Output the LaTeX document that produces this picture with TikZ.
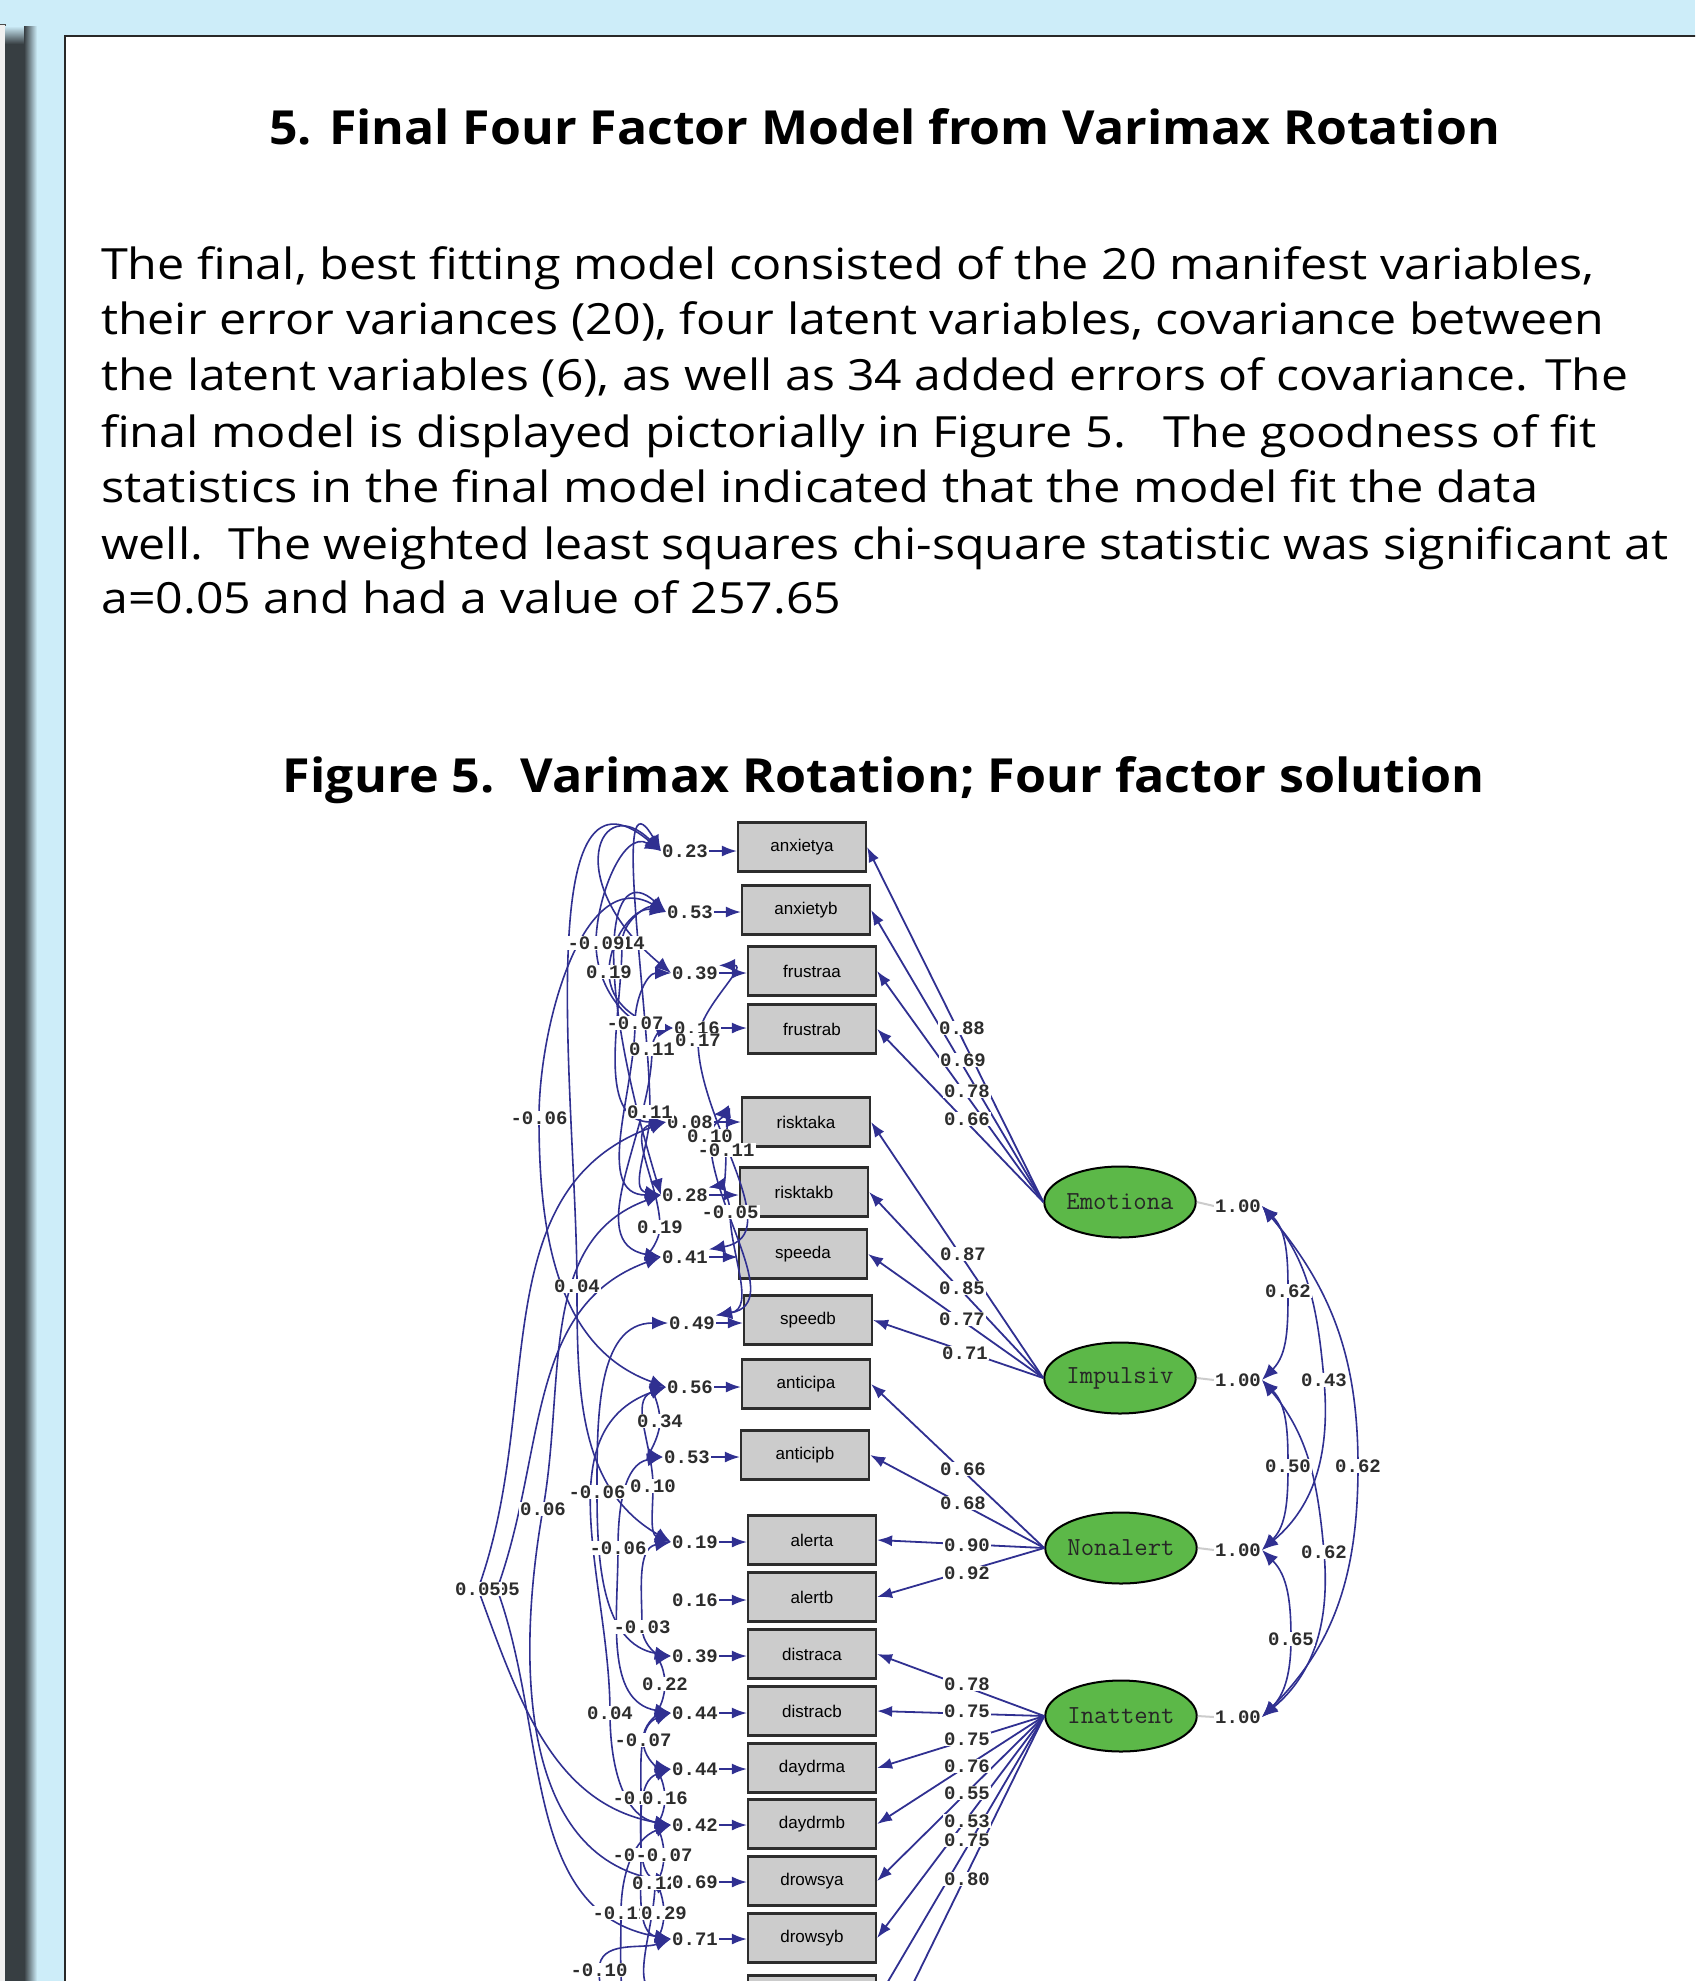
\documentclass[tikz,border=0pt]{standalone}
\usepackage{fontspec}
\setmainfont{Open Sans}
\newfontfamily\monof{Liberation Mono}
\newfontfamily\boxf{Liberation Sans}
\usetikzlibrary{arrows.meta,shapes.geometric}
\pgfdeclarelayer{fg}
\pgfsetlayers{main,fg}
\definecolor{bgblue}{RGB}{205,237,249}
\definecolor{darkbar}{RGB}{55,62,66}
\definecolor{panelline}{RGB}{40,40,40}
\definecolor{pathblue}{RGB}{48,48,145}
\definecolor{boxfill}{RGB}{204,204,204}
\definecolor{boxline}{RGB}{45,45,45}
\definecolor{latgreen}{RGB}{92,184,72}
\definecolor{labtext}{RGB}{45,45,45}
\newcommand\bodyline[2]{\resizebox{#1}{40pt}{\rule{0pt}{40pt}#2}}
\newcommand\headline[2]{\resizebox{#1}{50pt}{\rule{0pt}{50pt}#2}}
\tikzset{
  box/.style={draw=boxline, fill=boxfill, line width=2.2pt, minimum width=128pt, minimum height=49pt, inner sep=0pt, font=\boxf\fontsize{17}{17}\selectfont},
  lat/.style={ellipse, draw=black, fill=latgreen, line width=2pt, minimum width=127pt, minimum height=71pt, inner sep=0pt, font=\ttfamily\fontsize{26}{26}\selectfont, text=black!85},
  lab/.style={fill=white, inner sep=1pt, font=\monof\bfseries\fontsize{19}{19}\selectfont, text=labtext},
  arr/.style={draw=pathblue, line width=1.8pt, -{Latex[length=15pt,width=11pt]}},
  cov/.style={draw=pathblue, line width=1.6pt, {Latex[length=16pt,width=13pt]}-{Latex[length=16pt,width=13pt]}},
  bodytext/.style={anchor=base west, inner sep=0pt, font=\fontsize{43}{52}\selectfont},
  headtext/.style={anchor=base, inner sep=0pt, font=\bfseries\fontsize{47}{56}\selectfont}
}
\begin{document}
\begin{tikzpicture}[x=1pt,y=1pt]
\useasboundingbox (0,0) rectangle (1695,-1981);
\begin{scope}
\clip (0,0) rectangle (1695,-1981);
% background and frame
\fill[bgblue] (0,0) rectangle (1695,-1981);
\fill[gray!12] (0,-24) rectangle (5,-1981);
\draw[gray!60!black, line width=1pt] (0,-24) -- (5,-24) -- (5,-1981);
\shade[top color=bgblue, bottom color=darkbar] (5,-26) rectangle (24,-44);
\fill[darkbar] (5,-44) rectangle (24,-1981);
\shade[left color=darkbar, right color=bgblue] (24,-26) rectangle (37,-1981);
\filldraw[fill=white, draw=panelline, line width=2pt] (65,-36) rectangle (1720,-2010);

% texts
\node[headtext] (title) at (884.5,-144) {\headline{1231pt}{5. Final Four Factor Model from Varimax Rotation}};
\node[bodytext] (p1) at (101,-279) {\bodyline{1493pt}{The final, best fitting model consisted of the 20 manifest variables,}};
\node[bodytext] (p2) at (101,-334) {\bodyline{1503pt}{their error variances (20), four latent variables, covariance between}};
\node[bodytext] (p3) at (101,-390) {\bodyline{1527pt}{the latent variables (6), as well as 34 added errors of covariance. The}};
\node[bodytext] (p4) at (101,-447) {\bodyline{1495pt}{final model is displayed pictorially in Figure 5.\ \ \ The goodness of fit}};
\node[bodytext] (p5) at (101,-502) {\bodyline{1437pt}{statistics in the final model indicated that the model fit the data}};
\node[bodytext] (p6) at (101,-559) {\bodyline{1567pt}{well.\ \ The weighted least squares chi-square statistic was significant at}};
\node[bodytext] (p7) at (101,-613) {\bodyline{740pt}{a=0.05 and had a value of 257.65}};
\node[headtext] (cap) at (884,-792) {\headline{1202pt}{Figure 5.\ \ Varimax Rotation; Four factor solution}};

% observed boxes
\node[box] (b1) at (802,-847) {anxietya};
\node[box] (b2) at (806,-910) {anxietyb};
\node[box] (b3) at (812,-971) {frustraa};
\node[box] (b4) at (812,-1029) {frustrab};
\node[box] (b5) at (806,-1122) {risktaka};
\node[box] (b6) at (804,-1192) {risktakb};
\node[box] (b7) at (803,-1254) {speeda};
\node[box] (b8) at (808,-1320) {speedb};
\node[box] (b9) at (806,-1384) {anticipa};
\node[box] (b10) at (805,-1455) {anticipb};
\node[box] (b11) at (812,-1540) {alerta};
\node[box] (b12) at (812,-1597) {alertb};
\node[box] (b13) at (812,-1654) {distraca};
\node[box] (b14) at (812,-1711) {distracb};
\node[box] (b15) at (812,-1768) {daydrma};
\node[box] (b16) at (812,-1824) {daydrmb};
\node[box] (b17) at (812,-1881) {drowsya};
\node[box] (b18) at (812,-1938) {drowsyb};
\node[box] (b19) at (812,-2000) {};
\node[box] (b20) at (812,-2057) {};

% latent
\node[lat] (L1) at (1120,-1202) {Emotiona};
\node[lat] (L2) at (1120,-1378) {Impulsiv};
\node[lat] (L3) at (1121,-1548) {Nonalert};
\node[lat] (L4) at (1121,-1716) {Inattent};

% labels on foreground
\begin{pgfonlayer}{fg}
\node[lab] (c26) at (655,-1883) {0.12};
\node[lab] (e1) at (685,-851) {0.23};
\node[lab] (e2) at (690,-912) {0.53};
\node[lab] (e3) at (695,-973) {0.39};
\node[lab] (e4) at (697,-1028) {0.16};
\node[lab] (e5) at (690,-1122) {0.08};
\node[lab] (e6) at (685,-1195) {0.28};
\node[lab] (e7) at (685,-1257) {0.41};
\node[lab] (e8) at (692,-1323) {0.49};
\node[lab] (e9) at (690,-1387) {0.56};
\node[lab] (e10) at (687,-1457) {0.53};
\node[lab] (e11) at (695,-1542) {0.19};
\node[lab] (e12) at (695,-1600) {0.16};
\node[lab] (e13) at (695,-1656) {0.39};
\node[lab] (e14) at (695,-1713) {0.44};
\node[lab] (e15) at (695,-1769) {0.44};
\node[lab] (e16) at (695,-1825) {0.42};
\node[lab] (e17) at (695,-1882) {0.69};
\node[lab] (e18) at (695,-1939) {0.71};
\coordinate (e19) at (672,-1996);
\coordinate (e20) at (672,-2053);
% error covariance labels
\node[lab] (c2) at (622,-943) {0.14};
\node[lab] (c1) at (596,-943) {-0.09};
\node[lab] (c3) at (609,-972) {0.19};
\node[lab] (c4) at (635,-1023) {-0.07};
\node[lab] (c5) at (652,-1049) {0.11};
\node[lab] (c6) at (698,-1040) {0.17};
\node[lab] (c7) at (539,-1118) {-0.06};
\node[lab] (c8) at (650,-1112) {0.11};
\node[lab] (c9) at (710,-1136) {0.10};
\node[lab] (c10) at (726,-1150) {-0.11};
\node[lab] (c11) at (730,-1212) {-0.05};
\node[lab] (c12) at (660,-1227) {0.19};
\node[lab] (c13) at (577,-1286) {0.04};
\node[lab] (c14) at (660,-1421) {0.34};
\node[lab] (c15) at (597,-1492) {-0.06};
\node[lab] (c16) at (653,-1486) {0.10};
\node[lab] (c17) at (543,-1509) {0.06};
\node[lab] (c18) at (618,-1548) {-0.06};
\node[lab] (c19a) at (497,-1589) {0.05};
\node[lab] (c19) at (478,-1589) {0.05};
\node[lab] (c20) at (642,-1627) {-0.03};
\node[lab] (c21) at (665,-1684) {0.22};
\node[lab] (c22) at (610,-1713) {0.04};
\node[lab] (c23) at (643,-1740) {-0.07};
\node[lab] (c24a) at (641,-1798) {-0.07};
\node[lab] (c24) at (665,-1798) {0.16};
\node[lab] (c25a) at (641,-1855) {-0.05};
\node[lab] (c25) at (664,-1855) {-0.07};
\node[lab] (c27) at (621,-1913) {-0.11};
\node[lab] (c28) at (664,-1913) {0.29};
\node[lab] (c29) at (599,-1970) {-0.10};
% loadings
\node[lab] (l1) at (962,-1028) {0.88};
\node[lab] (l2) at (963,-1060) {0.69};
\node[lab] (l3) at (967,-1091) {0.78};
\node[lab] (l4) at (967,-1119) {0.66};
\node[lab] (l5) at (963,-1254) {0.87};
\node[lab] (l6) at (962,-1288) {0.85};
\node[lab] (l7) at (962,-1319) {0.77};
\node[lab] (l8) at (965,-1353) {0.71};
\node[lab] (l9) at (963,-1469) {0.66};
\node[lab] (l10) at (963,-1503) {0.68};
\node[lab] (l11) at (967,-1545) {0.90};
\node[lab] (l12) at (967,-1573) {0.92};
\node[lab] (l13) at (967,-1684) {0.78};
\node[lab] (l14) at (967,-1711) {0.75};
\node[lab] (l15) at (967,-1739) {0.75};
\node[lab] (l16) at (967,-1766) {0.76};
\node[lab] (l17) at (967,-1793) {0.55};
\node[lab] (l18) at (967,-1821) {0.53};
\node[lab] (l19) at (967,-1840) {0.75};
\node[lab] (l20) at (967,-1879) {0.80};
% latent variances and covariances
\node[lab] (v1) at (1238,-1206) {1.00};
\node[lab] (v2) at (1238,-1380) {1.00};
\node[lab] (v3) at (1238,-1550) {1.00};
\node[lab] (v4) at (1238,-1717) {1.00};
\node[lab] (k12) at (1288,-1291) {0.62};
\node[lab] (k13) at (1324,-1380) {0.43};
\node[lab] (k14) at (1358,-1466) {0.62};
\node[lab] (k23) at (1288,-1466) {0.50};
\node[lab] (k24) at (1324,-1552) {0.62};
\node[lab] (k34) at (1291,-1639) {0.65};
\end{pgfonlayer}

% variance lines
\foreach \i in {1,...,4} \draw[gray!40, line width=2pt] (L\i.east) -- (v\i.west);

% loadings
\foreach \i in {1,...,4} \draw[arr] (L1.west) -- (b\i.east);
\foreach \i in {5,...,8} \draw[arr] (L2.west) -- (b\i.east);
\foreach \i in {9,...,12} \draw[arr] (L3.west) -- (b\i.east);
\foreach \i in {13,...,20} \draw[arr] (L4.west) -- (b\i.east);

% error arrows
\foreach \i in {1,...,18} \draw[arr] (e\i.east) -- (e\i.east -| b\i.west);

% latent covariances
\draw[cov] (v1.east) to[out=-45,in=90] (k12.center) to[out=-90,in=45] (v2.east);
\draw[cov] (v1.east) to[out=-50,in=95] (k13.center) to[out=-85,in=40] (v3.east);
\draw[cov] (v1.east) to[out=-50,in=90] (k14.center) to[out=-90,in=45] (v4.east);
\draw[cov] (v2.east) to[out=-45,in=90] (k23.center) to[out=-90,in=45] (v3.east);
\draw[cov] (v2.east) to[out=-50,in=95] (k24.center) to[out=-85,in=40] (v4.east);
\draw[cov] (v3.east) to[out=-45,in=90] (k34.center) to[out=-90,in=45] (v4.east);

% error covariances (left side)
\draw[cov] (e1.west) to[out=150,in=90] (c1.center) to[out=-90,in=180] (e4.west);
\draw[cov] (e2.west) to[out=160,in=90] (c2.center) to[out=-90,in=180] (e5.west);
\draw[cov] (e2.west) to[out=170,in=90] (c3.center) to[out=-90,in=170] (e4.west);
\draw[cov] (e3.west) to[out=180,in=90] (c4.center) to[out=-90,in=180] (e6.west);
\draw[cov] (e4.west) to[out=190,in=90] (c5.center) to[out=-90,in=170] (e7.west);
\draw[cov] (e2.west) to[out=150,in=90] (c7.center) to[out=-90,in=160] (e9.west);
\draw[cov] (e1.west) to[out=120,in=90] (c8.center) to[out=-90,in=170] (e6.west);
\draw[cov] (e5.west) to[out=190,in=90] (c12.center) to[out=-90,in=170] (e7.west);
\draw[cov] (e1.west) to[out=140,in=90] (c13.center) to[out=-90,in=150] (e11.west);
\draw[cov] (e9.west) to[out=190,in=90] (c14.center) to[out=-90,in=170] (e10.west);
\draw[cov] (e8.west) to[out=180,in=90] (c15.center) to[out=-90,in=170] (e13.west);
\draw[cov] (e9.west) to[out=200,in=90] (c16.center) to[out=-90,in=160] (e11.west);
\draw[cov] (e6.west) to[out=200,in=80] (c17.center) to[out=-100,in=170] (e17.west);
\draw[cov] (e10.west) to[out=190,in=90] (c18.center) to[out=-90,in=170] (e14.west);
\draw[cov] (e5.west) to[out=200,in=70] (c19.center) to[out=-70,in=170] (e16.west);
\draw[cov] (e7.west) to[out=200,in=70] (c19a.center) to[out=-70,in=170] (e18.west);
\draw[cov] (e11.west) to[out=190,in=90] (c20.center) to[out=-90,in=170] (e13.west);
\draw[cov] (e13.west) to[out=190,in=90] (c21.center) to[out=-90,in=170] (e14.west);
\draw[cov] (e9.west) to[out=200,in=90] (c22.center) to[out=-90,in=170] (e16.west);
\draw[cov] (e14.west) to[out=190,in=90] (c23.center) to[out=-90,in=170] (e15.west);
\draw[cov] (e14.west) to[out=200,in=90] (c24a.center) to[out=-90,in=170] (e17.west);
\draw[cov] (e15.west) to[out=190,in=90] (c24.center) to[out=-90,in=170] (e16.west);
\draw[cov] (e15.west) to[out=200,in=90] (c25a.center) to[out=-90,in=170] (e18.west);
\draw[cov] (e16.west) to[out=190,in=90] (c25.center) to[out=-90,in=170] (e17.west);
\draw[cov] (e17.west) to[out=200,in=90] (c26.center) to[out=-90,in=170] (e19);
\draw[cov] (e16.west) to[out=200,in=90] (c27.center) to[out=-90,in=170] (e20);
\draw[cov] (e17.west) to[out=190,in=90] (c28.center) to[out=-90,in=170] (e18.west);
\draw[cov] (e18.west) to[out=200,in=90] (c29.center) to[out=-90,in=170] (e20);
% error covariances (right side)
\draw[cov] (e3.north east) to[out=0,in=90] (c6.center) to[out=-90,in=10] (e7.north east);
\draw[cov] (e5.north east) to[out=0,in=90] (c9.center) to[out=-90,in=10] (e8.north east);
\draw[cov] (e5.north east) to[out=10,in=90] (c10.center) to[out=-90,in=10] (e6.north east);
\draw[cov] (e6.north east) to[out=10,in=90] (c11.center) to[out=-90,in=10] (e8.north east);
% unlabelled loops near the top
\draw[cov] (e1.west) .. controls (600,-790) and (560,-880) .. (e3.west);
\draw[cov] (e2.west) .. controls (610,-860) and (590,-960) .. (e6.west);
\end{scope}
\end{tikzpicture}
\end{document}
